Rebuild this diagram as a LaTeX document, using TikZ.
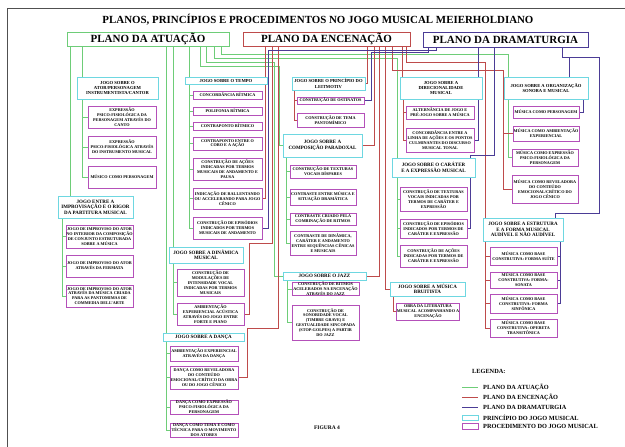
\documentclass[tikz,border=0pt]{standalone}
\usepackage{fontspec}
\setmainfont{Liberation Serif}
\pgfdeclarelayer{bg}
\pgfsetlayers{bg,main}
\definecolor{greenc}{RGB}{110,205,120}
\definecolor{redc}{RGB}{190,75,75}
\definecolor{bluec}{RGB}{75,60,150}
\definecolor{cyanc}{RGB}{110,215,225}
\definecolor{magc}{RGB}{180,80,185}
\definecolor{framec}{RGB}{80,80,80}
\newcommand{\mybox}[7]{%
 \pgfmathsetmacro{\bxw}{#5-#3}%
 \pgfmathsetmacro{\bxh}{#6-#4}%
 \pgfmathsetmacro{\bxcx}{(#3+#5)/2}%
 \pgfmathsetmacro{\bxcy}{(#4+#6)/2}%
 \node[#2, minimum width=\bxw pt, minimum height=\bxh pt] (#1) at (\bxcx,\bxcy) {#7};}
\tikzset{
 plane/.style={line width=0.9pt, fill=white, inner sep=0pt, align=center, font=\fontsize{11}{12}\selectfont\bfseries},
 prin/.style={draw=cyanc, line width=0.9pt, fill=white, inner sep=0pt, align=center, font=\fontsize{5.0}{5.6}\selectfont\bfseries},
 prins/.style={prin, font=\fontsize{4.6}{5.3}\selectfont\bfseries},
 proc/.style={draw=magc, line width=0.8pt, fill=white, inner sep=0pt, align=center, font=\fontsize{4.2}{4.9}\selectfont\bfseries},
 gl/.style={draw=greenc, line width=0.7pt},
 rl/.style={draw=redc, line width=0.7pt},
 bl/.style={draw=bluec, line width=0.7pt},
 legtext/.style={anchor=west, inner sep=0pt, font=\fontsize{6.3}{7}\selectfont\bfseries},
}
\begin{document}
\begin{tikzpicture}[x=1pt,y=-1pt]
\useasboundingbox (0,0) rectangle (625,447);
\draw[framec, line width=0.8pt] (7,447) -- (7,8) -- (625,8);
\node[font=\fontsize{10.9}{12}\selectfont\bfseries] (title) at (318,20) {PLANOS, PRINCÍPIOS E PROCEDIMENTOS NO JOGO MUSICAL MEIERHOLDIANO};
% planes
\mybox{pa}{plane, draw=greenc}{67}{32}{229}{46}{PLANO DA ATUAÇÃO}
\mybox{pe}{plane, draw=redc}{243}{32}{410}{46}{PLANO DA ENCENAÇÃO}
\mybox{pd}{plane, draw=bluec}{423}{32}{588}{47}{PLANO DA DRAMATURGIA}
% column 1
\mybox{ator}{prins}{77}{77}{158}{99}{JOGO SOBRE O\\ATOR/PERSONAGEM\\INSTRUMENTISTA/CANTOR}
\mybox{e1}{proc}{88}{106}{156}{128}{EXPRESSÃO\\PSICO-FISIOLÓGICA DA\\PERSONAGEM ATRAVÉS DO\\CANTO}
\mybox{e2}{proc}{88}{136}{156}{158}{EXPRESSÃO\\PSICO-FISIOLÓGICA ATRAVÉS\\DO INSTRUMENTO MUSICAL}
\mybox{e3}{proc}{88}{166}{156}{188}{MÚSICO COMO PERSONAGEM}
\mybox{imp}{prin}{58}{196}{133}{218}{JOGO ENTRE A\\IMPROVISAÇÃO E O RIGOR\\DA PARTITURA MUSICAL}
\mybox{i1}{proc}{66}{225}{133}{248}{JOGO DE IMPROVISO DO ATOR\\NO INTERIOR DA COMPOSIÇÃO\\DE CONJUNTO ESTRUTURADA\\SOBRE A MÚSICA}
\mybox{i2}{proc}{66}{255}{133}{277}{JOGO DE IMPROVISO DO ATOR\\ATRAVÉS DA FERMATA}
\mybox{i3}{proc}{66}{285}{133}{307}{JOGO DE IMPROVISO DO ATOR\\ATRAVÉS DA MÚSICA CRIADA\\PARA AS PANTOMIMAS DE\\COMMEDIA DELL'ARTE}
% column 2
\mybox{tempo}{prins}{185}{77}{267}{84}{JOGO SOBRE O TEMPO}
\mybox{t1}{proc}{193}{91}{262}{99}{CONCORDÂNCIA RÍTMICA}
\mybox{t2}{proc}{193}{107}{262}{115}{POLIFONIA RÍTMICA}
\mybox{t3}{proc}{193}{122}{262}{130}{CONTRAPONTO RÍTMICO}
\mybox{t4}{proc}{193}{137}{262}{150}{CONTRAPONTO ENTRE O\\CORO E A AÇÃO}
\mybox{t5}{proc}{193}{158}{262}{180}{CONSTRUÇÃO DE AÇÕES\\INDICADAS POR TERMOS\\MUSICAIS DE ANDAMENTO E\\PAUSA}
\mybox{t6}{proc}{193}{188}{262}{209}{INDICAÇÃO DE RALLENTANDO\\OU ACCELERANDO PARA JOGO\\CÊNICO}
\mybox{t7}{proc}{193}{217}{262}{239}{CONSTRUÇÃO DE EPISÓDIOS\\INDICADOS POR TERMOS\\MUSICAIS DE ANDAMENTO}
\mybox{din}{prin}{169}{247}{243}{263}{JOGO SOBRE A DINÂMICA\\MUSICAL}
\mybox{d1}{proc}{177}{269}{244}{296}{CONSTRUÇÃO DE\\MODULAÇÕES DE\\INTENSIDADE VOCAL\\INDICADAS POR TERMOS\\MUSICAIS}
\mybox{d2}{proc}{177}{303}{244}{325}{AMBIENTAÇÃO\\EXPERIENCIAL ACÚSTICA\\ATRAVÉS DO JOGO ENTRE\\FORTE E PIANO}
\mybox{danca}{prin}{163}{333}{244}{341}{JOGO SOBRE A DANÇA}
\mybox{n1}{proc}{170}{346}{238}{361}{AMBIENTAÇÃO EXPERIENCIAL\\ATRAVÉS DA DANÇA}
\mybox{n2}{proc}{170}{366}{238}{389}{DANÇA COMO REVELADORA\\DO CONTEÚDO\\EMOCIONAL/CRÍTICO DA OBRA\\OU DO JOGO CÊNICO}
\mybox{n3}{proc}{170}{400}{238}{414}{DANÇA COMO EXPRESSÃO\\PSICO-FISIOLÓGICA DA\\PERSONAGEM}
\mybox{n4}{proc}{170}{423}{238}{437}{DANÇA COMO TEMA E COMO\\TÉCNICA PARA O MOVIMENTO\\DOS ATORES}
% column 3
\mybox{leit}{prins}{292}{77}{365}{90}{JOGO SOBRE O PRINCÍPIO DO\\LEITMOTIV}
\mybox{l1}{proc}{297}{97}{364}{104}{CONSTRUÇÃO DE OSTINATOS}
\mybox{l2}{proc}{297}{113}{364}{127}{CONSTRUÇÃO DE TEMA\\PANTOMÍMICO}
\mybox{comp}{prin}{283}{134}{362}{157}{JOGO SOBRE A\\COMPOSIÇÃO PARADOXAL}
\mybox{c1}{proc}{290}{165}{356}{178}{CONSTRUÇÃO DE TEXTURAS\\VOCAIS DÍSPARES}
\mybox{c2}{proc}{290}{189}{356}{205}{CONTRASTE ENTRE MÚSICA E\\SITUAÇÃO DRAMÁTICA}
\mybox{c3}{proc}{290}{213}{356}{225}{CONTRASTE CRIADO PELA\\COMBINAÇÃO DE RITMOS}
\mybox{c4}{proc}{290}{231}{356}{255}{CONTRASTE DE DINÂMICA,\\CARÁTER E ANDAMENTO\\ENTRE SEQUÊNCIAS CÊNICAS\\E MUSICAIS}
\mybox{jazz}{prin}{283}{272}{366}{280}{JOGO SOBRE O JAZZ}
\mybox{z1}{proc}{292}{283}{359}{295}{CONSTRUÇÃO DE RITMOS\\ACELERADOS NA ENCENAÇÃO\\ATRAVÉS DO JAZZ}
\mybox{z2}{proc}{292}{305}{359}{340}{CONSTRUÇÃO DE\\SONORIDADE VOCAL\\(TIMBRE GRAVE) E\\GESTUALIDADE SINCOPADA\\(STOP-GOLPES) A PARTIR\\DO JAZZ}
% column 4
\mybox{dir}{prins}{400}{77}{482}{99}{JOGO SOBRE A\\DIRECIONALIDADE\\MUSICAL}
\mybox{r1}{proc}{406}{106}{474}{119}{ALTERNÂNCIA DE JOGO E\\PRÉ-JOGO SOBRE A MÚSICA}
\mybox{r2}{proc}{406}{128}{474}{152}{CONCORDÂNCIA ENTRE A\\LINHA DE AÇÕES E OS PONTOS\\CULMINANTES DO DISCURSO\\MUSICAL TONAL}
\mybox{car}{prin}{392}{158}{475}{177}{JOGO SOBRE O CARÁTER\\E A EXPRESSÃO MUSICAL}
\mybox{k1}{proc}{400}{187}{467}{211}{CONSTRUÇÃO DE TEXTURAS\\VOCAIS INDICADAS POR\\TERMOS DE CARÁTER E\\EXPRESSÃO}
\mybox{k2}{proc}{400}{219}{467}{238}{CONSTRUÇÃO DE EPISÓDIOS\\INDICADOS POR TERMOS DE\\CARÁTER E EXPRESSÃO}
\mybox{k3}{proc}{400}{245}{467}{267}{CONSTRUÇÃO DE AÇÕES\\INDICADAS POR TERMOS DE\\CARÁTER E EXPRESSÃO}
\mybox{brui}{prin}{390}{282}{465}{296}{JOGO SOBRE A MÚSICA\\BRUITISTA}
\mybox{b1}{proc}{397}{303}{459}{320}{OBRA DA LITERATURA\\MUSICAL ACOMPANHANDO A\\ENCENAÇÃO}
% column 5
\mybox{org}{prins}{504}{77}{588}{99}{JOGO SOBRE A ORGANIZAÇÃO\\SONORA E MUSICAL}
\mybox{o1}{proc}{513}{106}{579}{118}{MÚSICA COMO PERSONAGEM}
\mybox{o2}{proc}{513}{126}{579}{141}{MÚSICA COMO AMBIENTAÇÃO\\EXPERIENCIAL}
\mybox{o3}{proc}{512}{149}{578}{166}{MÚSICA COMO EXPRESSÃO\\PSICO-FISIOLÓGICA DA\\PERSONAGEM}
\mybox{o4}{proc}{512}{175}{578}{203}{MÚSICA COMO REVELADORA\\DO CONTEÚDO\\EMOCIONAL/CRÍTICO DO\\JOGO CÊNICO}
\mybox{str}{prin}{483}{218}{563}{241}{JOGO SOBRE A ESTRUTURA\\E A FORMA MUSICAL\\AUDÍVEL E NÃO AUDÍVEL}
\mybox{s1}{proc}{490}{247}{557}{265}{MÚSICA COMO BASE\\CONSTRUTIVA: FORMA SUÍTE}
\mybox{s2}{proc}{490}{272}{557}{288}{MÚSICA COMO BASE\\CONSTRUTIVA: FORMA-\\SONATA}
\mybox{s3}{proc}{490}{294}{557}{313}{MÚSICA COMO BASE\\CONSTRUTIVA: FORMA\\SINFÔNICA}
\mybox{s4}{proc}{490}{319}{557}{337}{MÚSICA COMO BASE\\CONSTRUTIVA: OPERETA\\TRANSITÔNICA}
% legend and caption
\node[legtext] (leg) at (472,371) {LEGENDA:};
\node[legtext] (lg1) at (483,387) {PLANO DA ATUAÇÃO};
\node[legtext] (lg2) at (483,397) {PLANO DA ENCENAÇÃO};
\node[legtext] (lg3) at (483,407) {PLANO DA DRAMATURGIA};
\node[legtext] (lg4) at (483,417.5) {PRINCÍPIO DO JOGO MUSICAL};
\node[legtext] (lg5) at (483,426) {PROCEDIMENTO DO JOGO MUSICAL};
\draw[gl] ([xshift=-21pt]lg1.west) -- ([xshift=-5pt]lg1.west);
\draw[rl] ([xshift=-21pt]lg2.west) -- ([xshift=-5pt]lg2.west);
\draw[bl] ([xshift=-21pt]lg3.west) -- ([xshift=-5pt]lg3.west);
\draw[draw=cyanc, line width=0.9pt] ([xshift=-21pt,yshift=2.5pt]lg4.west) rectangle ([xshift=-5pt,yshift=-2.5pt]lg4.west);
\draw[draw=magc, line width=0.8pt] ([xshift=-21pt,yshift=3pt]lg5.west) rectangle ([xshift=-5pt,yshift=-3pt]lg5.west);
\node[font=\fontsize{5.5}{6}\selectfont\bfseries] (fig) at (327,428) {FIGURA 4};
% connectors
\begin{pgfonlayer}{bg}
\foreach \v in {62,70,82,166,173,189,200,206,214,221,265,272,278,286,287,294,367,374,379,385,392,393,397,402,403,406,428,436,478,485,494,503,508,555,560,562,569,583}
  \coordinate (L\v) at (\v,0);
% green
\draw[gl] (pa.south -| L70) -- (imp.north -| L70);
\draw[gl] (pa.south -| L82) -- (ator.north -| L82);
\draw[gl] (pa.south -| L166) -- (danca.north -| L166);
\draw[gl] (pa.south -| L173) -- (din.north -| L173);
\draw[gl] (pa.south -| L189) -- (tempo.north -| L189);
\draw[gl] (pa.south -| L200) |- (279,66) |- (comp.west);
\draw[gl] (pa.south -| L206) |- (274,62) |- (jazz.west);
\draw[gl] (pa.south -| L214) |- (397,58) -- (car.north -| L397);
\draw[gl] (pa.south -| L221) |- (508,54) |- (o3.west);
\foreach \n in {e1,e2,e3} \draw[gl] (ator.south -| L82) |- (\n.west);
\foreach \n in {i1,i2,i3} \draw[gl] (imp.south -| L62) |- (\n.west);
\foreach \n in {t1,t2,t3,t4,t5,t6,t7} \draw[gl] (tempo.south -| L189) |- (\n.west);
\foreach \n in {d1,d2} \draw[gl] (din.south -| L173) |- (\n.west);
\foreach \n in {n1,n2,n3,n4} \draw[gl] (danca.south -| L166) |- (\n.west);
\foreach \n in {c1,c2,c3,c4} \draw[gl] (comp.south -| L286) |- (\n.west);
\foreach \n in {z1,z2} \draw[gl] (jazz.south -| L287) |- (\n.west);
\foreach \n in {k1,k2,k3} \draw[gl] (car.south -| L397) |- (\n.west);
% red
\draw[rl] (pe.south -| L265) |- (t6.east);
\draw[rl] (pe.south -| L272) |- (249,243) |- (d2.east);
\draw[rl] (pe.south -| L278) |- (247,328) |- (n2.east);
\draw[rl] (pe.south -| L367) |- (leit.east);
\foreach \n in {l1,l2} \draw[rl] (leit.south -| L294) |- (\n.west);
\draw[rl] (pe.south -| L374) |- (comp.east);
\draw[rl] (pe.south -| L379) |- (jazz.east);
\draw[rl] (pe.south -| L385) |- (brui.west);
\draw[rl] (brui.south -| L393) |- (b1.west);
\draw[rl] (pe.south -| L402) -- (dir.north -| L402);
\foreach \n in {r1,r2} \draw[rl] (dir.south -| L403) |- (\n.west);
\draw[rl] (pe.south -| L392) |- (503,70) |- (o4.west);
\draw[rl] (o2.west -| L503) -- (o2.west);
\draw[rl] (pe.south -| L406) |- (485,62) |- (s4.west);
\foreach \n in {s1,s2,s3} \draw[rl] (\n.west -| L485) -- (\n.west);
% blue
\draw[bl] (pd.south -| L562) |- (569,57) -- (org.north -| L569);
\draw[bl] (pd.south -| L562) |- (599,57) |- (555,213) -- (str.north -| L555);
\draw[bl] (org.south -| L583) |- (o1.east);
\foreach \n in {s1,s2,s3} \draw[bl] (str.south -| L560) |- (\n.east);
\draw[bl] (pd.south -| L478) |- (r2.east);
\draw[bl] (pd.south -| L494) |- (470,155) |- (k2.east);
\draw[bl] (pd.south -| L428) |- (371,52) |- (l1.east);
\draw[bl] (pd.south -| L436) |- (268,50) |- (t7.east);
\end{pgfonlayer}
\end{tikzpicture}
\end{document}
